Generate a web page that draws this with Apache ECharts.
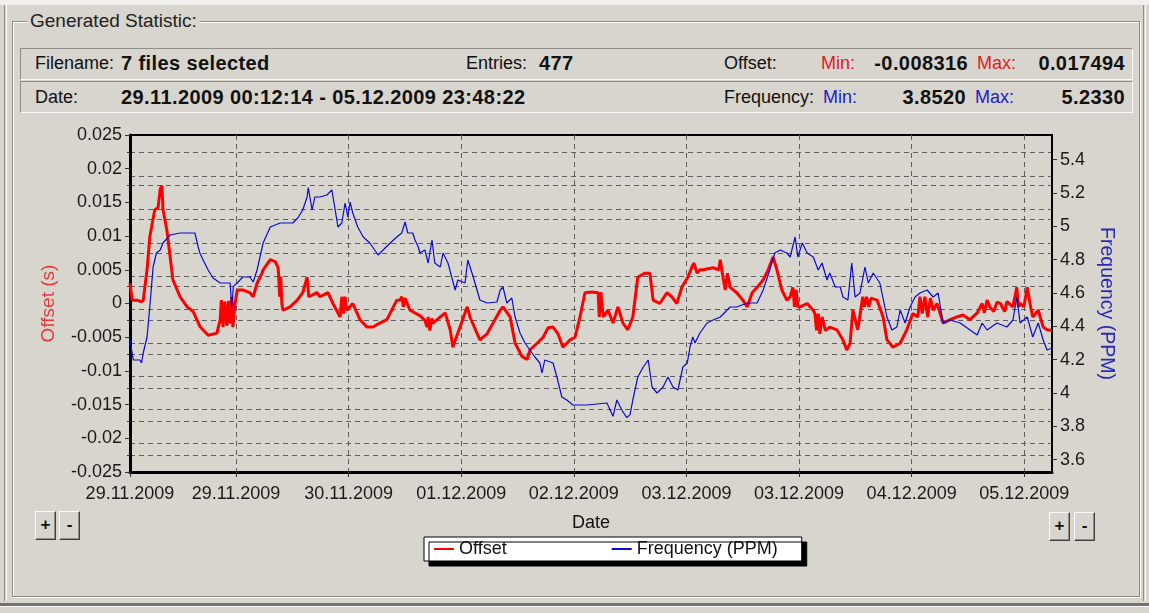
<!DOCTYPE html>
<html>
<head>
<meta charset="utf-8">
<script src="https://cdn.jsdelivr.net/npm/echarts@6/dist/echarts.min.js"></script>
<style>
  html, body { margin: 0; padding: 0; }
  body {
    width: 1149px; height: 613px; overflow: hidden; position: relative;
    background: #d8d5ce; color: #111;
    font-family: "Liberation Sans", Arial, sans-serif;
  }
  .abs { position: absolute; }
  .strip { left: 0; top: 0; width: 1149px; height: 5px; background: #f1f0ec; }
  .vedge { top: 5px; width: 1px; height: 596px; border-left: 1px solid #8f8d86; border-right: 1px solid #fbfbf9; }
  .group { left: 12px; top: 21px; width: 1126px; height: 574px;
           border: 1px solid #8f8d86; box-shadow: inset 1px 1px 0 #fbfbf9, 1px 1px 0 #fbfbf9; }
  .gtitle { left: 27px; top: 9px; padding: 0 3px; background: #d8d5ce; font-size: 19px; line-height: 24px; color: #222; }
  .panel { left: 20px; width: 1111px; height: 30px;
           border-top: 1px solid #8f8d86; border-left: 1px solid #8f8d86;
           border-right: 1px solid #fbfbf9; border-bottom: 1px solid #fbfbf9; }
  .t { font-size: 18px; line-height: 22px; white-space: nowrap; }
  .b { font-size: 20px; line-height: 22px; font-weight: bold; white-space: nowrap; letter-spacing: 0.4px; }
  .red { color: #e02020; }
  .blue { color: #2020c8; }
  .btn { width: 19px; height: 27px; background: #d8d5ce; text-align: center;
         font-size: 17px; line-height: 26px; font-weight: bold;
         border-top: 1px solid #fbfbf9; border-left: 1px solid #fbfbf9;
         border-right: 1px solid #404040; border-bottom: 1px solid #404040;
         box-shadow: inset -1px -1px 0 #8f8d86; }
  .sep { left: 0; top: 603px; width: 1149px; height: 3px; background: #74726c; border-bottom: 1px solid #fbfbf9; }
  #chart { position: absolute; left: 0; top: 0; width: 1149px; height: 613px; }
</style>
</head>
<body>
<div class="abs strip"></div>
<div class="abs vedge" style="left:4px"></div>
<div class="abs vedge" style="left:1143px"></div>
<div class="abs group"></div>
<div class="abs gtitle">Generated Statistic:</div>

<div class="abs panel" style="top:48px"></div>
<div class="abs panel" style="top:81px"></div>

<div class="abs t" style="left:35px;top:52px">Filename:</div>
<div class="abs b" style="left:121px;top:52px">7 files selected</div>
<div class="abs t" style="left:466px;top:52px">Entries:</div>
<div class="abs b" style="left:539px;top:52px">477</div>
<div class="abs t" style="left:724px;top:52px">Offset:</div>
<div class="abs t red" style="left:821px;top:52px">Min:</div>
<div class="abs b" style="right:181px;top:52px">-0.008316</div>
<div class="abs t red" style="left:977px;top:52px">Max:</div>
<div class="abs b" style="right:24px;top:52px">0.017494</div>

<div class="abs t" style="left:35px;top:86px">Date:</div>
<div class="abs b" style="left:121px;top:86px">29.11.2009 00:12:14 - 05.12.2009 23:48:22</div>
<div class="abs t" style="left:724px;top:86px">Frequency:</div>
<div class="abs t blue" style="left:823px;top:86px">Min:</div>
<div class="abs b" style="right:183px;top:86px">3.8520</div>
<div class="abs t blue" style="left:975px;top:86px">Max:</div>
<div class="abs b" style="right:24px;top:86px">5.2330</div>

<div class="abs btn" style="left:35px;top:511px">+</div>
<div class="abs btn" style="left:59px;top:511px">-</div>
<div class="abs btn" style="left:1049px;top:512px">+</div>
<div class="abs btn" style="left:1074px;top:512px">-</div>

<div class="abs sep"></div>

<div id="chart"></div>

<script>
// Time axis: hours since 29.11.2009 00:12:14
const timeMin = 0;
const timeMax = 167.6;
const dateTickHours = [0, 19.27, 39.74, 60.21, 80.68, 101.15, 121.62, 142.09, 162.56];
const dateTickLabels = ['29.11.2009', '29.11.2009', '30.11.2009', '01.12.2009', '02.12.2009',
                        '03.12.2009', '03.12.2009', '04.12.2009', '05.12.2009'];

// Offset (s): [hour, value]
const offsetData = [
  [0, 0.0030], [0.4, 0.0005], [1.2, 0.0005], [2.0, 0.0003], [2.4, 0.0004], [3.1, 0.0050],
  [3.6, 0.0099], [4.5, 0.0139], [5.1, 0.0142], [5.5, 0.0170], [5.8, 0.0175], [6.0, 0.0139],
  [6.7, 0.0109], [7.3, 0.0069], [7.8, 0.0035], [9.1, 0.0010], [10.4, -0.0005], [11.5, -0.0012],
  [12.7, -0.0034], [14.2, -0.0047], [15.8, -0.0044], [16.4, -0.0024], [16.6, 0.0005],
  [16.9, -0.0035], [17.2, 0.0003], [17.6, -0.0033], [17.9, 0.0004], [18.2, -0.0030],
  [18.5, 0.0010], [18.7, -0.0035], [19.1, 0.0000],
  [19.5, 0.0020], [20.5, 0.0020], [21.8, 0.0016], [22.4, 0.0010], [23.1, 0.0030], [24.0, 0.0045],
  [24.2, 0.0050], [25.5, 0.0065], [26.4, 0.0062], [26.9, 0.0054], [27.0, 0.0045], [27.2, 0.0010],
  [27.4, 0.0040], [27.6, 0.0000], [27.8, -0.0010], [29.1, -0.0005], [30.4, 0.0005], [31.4, 0.0016],
  [32.2, 0.0039], [32.5, 0.0010], [32.7, 0.0010], [34.0, 0.0016], [34.5, 0.0010], [36.0, 0.0016],
  [36.9, 0.0000], [38.2, -0.0020], [38.5, 0.0010], [38.8, -0.0015], [39.1, 0.0010], [39.4, -0.0010],
  [40.5, 0.0000], [41.8, -0.0024], [43.1, -0.0035], [44.2, -0.0035], [45.4, -0.0029],
  [46.7, -0.0024], [48.5, 0.0005], [49.1, 0.0005], [49.4, 0.0010], [49.7, -0.0005], [50.0, 0.0008],
  [50.9, -0.0010], [52.7, -0.0018],
  [53.6, -0.0025], [54.0, -0.0035], [54.2, -0.0020], [54.5, -0.0040], [54.9, -0.0022],
  [55.1, -0.0029], [56.4, -0.0020], [57.3, -0.0014], [58.2, -0.0039], [58.7, -0.0065],
  [59.1, -0.0055], [60.0, -0.0035], [61.3, -0.0005], [61.8, -0.0020], [63.6, -0.0054],
  [64.9, -0.0045], [66.0, -0.0029], [67.3, -0.0010], [67.8, -0.0005], [69.1, -0.0020],
  [70.0, -0.0059], [71.3, -0.0079], [72.2, -0.0083], [72.7, -0.0069], [74.0, -0.0059],
  [75.1, -0.0050], [76.0, -0.0036], [76.9, -0.0035], [77.8, -0.0045], [78.7, -0.0065],
  [80.0, -0.0054], [80.9, -0.0050], [81.8, -0.0020], [82.7, 0.0016], [84.0, 0.0017],
  [85.1, 0.0016], [85.3, -0.0020], [85.6, 0.0017], [86.0, -0.0020], [86.9, -0.0010],
  [87.8, -0.0029], [88.7, -0.0005], [89.6, -0.0029], [90.5, -0.0039], [91.4, -0.0020],
  [92.3, 0.0039], [93.6, 0.0045], [94.5, 0.0045], [95.1, 0.0005], [96.3, 0.0000], [97.6, 0.0016],
  [98.5, 0.0010], [99.4, 0.0000], [100.3, 0.0024], [101.4, 0.0039], [102.2, 0.0055],
  [102.5, 0.0060], [103.1, 0.0045], [103.6, 0.0050],
  [104.2, 0.0050], [106.0, 0.0053], [107.0, 0.0050], [107.3, 0.0065], [107.8, 0.0039],
  [108.2, 0.0020], [108.6, 0.0045], [109.1, 0.0024], [110.3, 0.0016], [111.4, 0.0005],
  [112.2, -0.0005], [113.1, 0.0016], [114.0, 0.0024], [115.1, 0.0035], [116.0, 0.0050],
  [116.9, 0.0069], [117.6, 0.0050], [118.5, 0.0020], [119.4, 0.0005], [120.0, 0.0010],
  [120.5, 0.0024], [120.8, -0.0005], [121.1, 0.0020], [121.4, -0.0005], [121.8, -0.0005],
  [123.1, 0.0000], [124.2, -0.0010], [124.5, -0.0015], [124.8, -0.0040], [125.1, -0.0015],
  [125.4, -0.0045], [125.8, -0.0020], [126.4, -0.0040], [127.2, -0.0035], [128.5, -0.0039],
  [129.6, -0.0054], [130.3, -0.0069], [130.9, -0.0059], [131.4, -0.0010], [132.3, -0.0039],
  [133.2, 0.0010], [133.5, -0.0005], [133.9, 0.0010], [134.3, -0.0005], [134.7, 0.0008],
  [135.8, 0.0005], [136.9, -0.0020], [137.6, -0.0054], [138.7, -0.0065], [140.0, -0.0059],
  [141.2, -0.0039], [142.3, -0.0015], [143.2, -0.0020], [143.6, 0.0010], [144.0, -0.0015],
  [144.5, 0.0010], [145.0, -0.0020], [145.5, 0.0008], [146.0, -0.0010], [146.7, 0.0000],
  [147.8, -0.0029], [149.1, -0.0024], [150.3, -0.0020], [151.4, -0.0017], [152.7, -0.0024],
  [154.0, -0.0014], [154.9, 0.0000], [155.3, -0.0014], [155.8, 0.0005], [156.3, -0.0005],
  [157.0, -0.0012], [157.6, 0.0002], [158.2, 0.0000], [159.0, -0.0012], [159.4, 0.0003],
  [160.5, -0.0005], [161.2, 0.0024], [161.5, -0.0005], [161.8, 0.0000], [162.5, -0.0005],
  [163.1, 0.0024], [163.6, 0.0000], [164.1, -0.0020], [165.1, -0.0010], [166.0, -0.0035],
  [166.7, -0.0039], [167.6, -0.0040]
];

// Frequency (PPM): [hour, value]
const frequencyData = [
  [0, 4.318], [0.3, 4.258], [0.6, 4.198], [1.8, 4.198], [2.1, 4.180], [2.4, 4.240], [3.1, 4.336],
  [3.6, 4.516], [4.2, 4.756], [4.8, 4.840], [5.5, 4.858], [6.0, 4.900], [7.3, 4.948], [9.1, 4.960],
  [11.8, 4.960], [12.4, 4.876], [12.7, 4.840], [13.3, 4.798], [14.2, 4.738], [15.1, 4.690],
  [16.4, 4.660], [18.2, 4.660], [18.5, 4.516], [18.8, 4.640], [19.5, 4.660], [20.5, 4.696],
  [21.8, 4.696], [22.4, 4.666], [23.1, 4.738], [24.2, 4.900], [25.5, 4.996], [27.3, 5.020],
  [29.6, 5.020], [30.5, 5.050], [31.4, 5.098], [32.2, 5.176], [32.4, 5.233], [33.1, 5.098],
  [33.6, 5.176], [34.5, 5.176], [35.8, 5.188], [36.7, 5.218], [37.3, 5.098], [37.8, 4.996],
  [38.5, 5.020], [39.1, 5.140], [39.6, 5.056], [40.0, 5.146], [40.5, 5.080], [41.4, 4.996],
  [42.4, 4.936], [43.6, 4.900], [45.1, 4.828], [46.0, 4.858], [47.3, 4.900], [48.5, 4.936],
  [49.4, 4.960], [50.0, 5.026], [50.5, 4.960], [51.4, 4.960], [51.8, 4.918], [52.4, 4.876],
  [52.7, 4.840], [53.6, 4.858], [54.2, 4.780], [54.9, 4.918], [55.4, 4.780], [56.4, 4.756],
  [56.9, 4.840], [57.8, 4.780], [59.1, 4.618], [59.6, 4.678], [60.9, 4.660], [61.4, 4.798],
  [62.4, 4.696], [63.6, 4.558], [64.9, 4.540], [66.7, 4.546], [67.3, 4.618], [67.8, 4.636],
  [68.5, 4.540], [69.4, 4.570], [70.0, 4.456], [70.9, 4.360], [71.8, 4.300], [72.7, 4.258],
  [73.6, 4.216], [74.5, 4.180], [74.9, 4.120], [75.4, 4.198], [76.9, 4.180], [77.6, 4.096],
  [78.5, 3.976], [79.4, 3.958], [80.5, 3.928], [83.1, 3.928], [86.7, 3.940], [87.8, 3.860],
  [88.5, 3.958], [89.4, 3.898], [90.3, 3.852], [90.9, 3.870], [91.4, 3.958], [92.3, 4.096],
  [93.3, 4.156], [94.2, 4.198], [94.9, 4.036], [95.8, 4.000], [96.9, 4.036], [97.8, 4.096],
  [98.7, 4.036], [99.6, 4.018], [100.5, 4.156], [101.3, 4.180], [101.8, 4.276], [102.3, 4.336],
  [102.7, 4.300], [103.6, 4.360], [104.9, 4.420], [106.0, 4.438], [107.3, 4.456], [109.1, 4.516],
  [110.3, 4.516], [112.2, 4.540], [114.0, 4.540], [115.1, 4.618], [116.3, 4.738], [117.2, 4.840],
  [118.2, 4.858], [119.4, 4.840], [120.0, 4.816], [120.9, 4.936], [121.4, 4.816], [122.2, 4.900],
  [123.1, 4.840], [124.2, 4.816], [125.1, 4.738], [125.8, 4.780], [126.7, 4.678], [127.2, 4.720],
  [128.2, 4.636], [129.1, 4.636], [129.6, 4.576], [130.5, 4.558], [131.2, 4.780], [131.8, 4.576],
  [132.7, 4.600], [133.6, 4.756], [134.2, 4.660], [135.1, 4.720], [136.3, 4.660], [137.6, 4.456],
  [138.5, 4.378], [139.4, 4.396], [140.0, 4.498], [140.9, 4.420], [141.8, 4.516], [142.7, 4.576],
  [143.6, 4.600], [144.9, 4.618], [146.0, 4.576], [146.9, 4.600], [147.8, 4.420], [149.1, 4.438],
  [150.9, 4.420], [152.7, 4.378], [154.0, 4.348], [154.9, 4.420], [155.8, 4.378], [157.6, 4.420],
  [159.4, 4.396], [160.5, 4.438], [161.2, 4.576], [161.8, 4.420], [163.1, 4.456], [163.6, 4.396],
  [164.1, 4.336], [165.1, 4.420], [166.0, 4.318], [166.7, 4.258], [167.6, 4.270]
];

// Axis ranges and tick values
const offsetMin = -0.025, offsetMax = 0.025, offsetStep = 0.005;
const freqMin = 3.526, freqMax = 5.548;
const freqTicks = [3.6, 3.8, 4.0, 4.2, 4.4, 4.6, 4.8, 5.0, 5.2, 5.4];
const freqGridValues = [3.7, 3.9, 4.1, 4.3, 4.5, 4.7, 4.9, 5.1, 5.3];

const FONT = '"Liberation Sans", Arial, sans-serif';
const gridDash = { color: '#5f5f5f', width: 1, type: [5, 4] };

const chart = echarts.init(document.getElementById('chart'), null, { renderer: 'canvas' });

chart.setOption({
  animation: false,
  backgroundColor: 'transparent',
  textStyle: { fontFamily: FONT },
  grid: {
    left: 130, top: 135, width: 922, height: 337,
    show: true, borderColor: '#000', borderWidth: 2, backgroundColor: 'transparent'
  },
  legend: {
    left: 424, top: 537,
    padding: [3, 24, 3, 9],
    itemGap: 104, itemWidth: 20, itemHeight: 14,
    backgroundColor: '#ffffff', borderColor: '#000', borderWidth: 1,
    shadowColor: '#000', shadowBlur: 0, shadowOffsetX: 5, shadowOffsetY: 5,
    itemStyle: { color: 'transparent', borderColor: 'transparent', borderWidth: 0 },
    textStyle: { fontFamily: FONT, fontSize: 18, color: '#111' },
    data: ['Offset', 'Frequency (PPM)']
  },
  xAxis: {
    type: 'value', min: timeMin, max: timeMax,
    name: 'Date', nameLocation: 'middle', nameGap: 42,
    nameTextStyle: { fontFamily: FONT, fontSize: 18, color: '#111' },
    axisLine: { show: true, onZero: false, lineStyle: { color: '#000', width: 3 } },
    axisTick: { show: true, customValues: dateTickHours, length: 5, lineStyle: { color: '#333' } },
    axisLabel: {
      customValues: dateTickHours, margin: 13,
      fontFamily: FONT, fontSize: 18, color: '#1a1a1a',
      formatter: function (v) {
        let best = 0;
        dateTickHours.forEach(function (h, i) {
          if (Math.abs(h - v) < Math.abs(dateTickHours[best] - v)) best = i;
        });
        return dateTickLabels[best];
      }
    },
    splitLine: { show: true, lineStyle: gridDash }
  },
  yAxis: [
    {
      type: 'value', position: 'left',
      min: offsetMin, max: offsetMax, interval: offsetStep,
      name: 'Offset (s)', nameLocation: 'middle', nameGap: 72,
      nameTextStyle: { fontFamily: FONT, fontSize: 19, color: '#e23a3a' },
      axisLine: { show: true, onZero: false, lineStyle: { color: '#000', width: 3 } },
      axisTick: { show: true, length: 5, lineStyle: { color: '#333' } },
      minorTick: { show: true, splitNumber: 2, length: 3, lineStyle: { color: '#333' } },
      axisLabel: { margin: 8, fontFamily: FONT, fontSize: 18, color: '#1a1a1a' },
      splitLine: { show: false },
      minorSplitLine: { show: true, lineStyle: gridDash }
    },
    {
      type: 'value', position: 'right',
      min: freqMin, max: freqMax,
      name: 'Frequency (PPM)', nameLocation: 'middle', nameGap: 38, nameRotate: -90,
      nameTextStyle: { fontFamily: FONT, fontSize: 19.5, color: '#2a2ab8' },
      axisLine: { show: true, onZero: false, lineStyle: { color: '#000', width: 2 } },
      axisTick: { show: true, customValues: freqTicks, length: 5, lineStyle: { color: '#333' } },
      axisLabel: { customValues: freqTicks, margin: 8, fontFamily: FONT, fontSize: 18, color: '#1a1a1a' },
      splitLine: { show: false }
    },
    {
      // grid lines halfway between the frequency ticks
      type: 'value', position: 'right',
      min: freqMin, max: freqMax,
      axisLine: { show: false },
      axisTick: { show: false, customValues: freqGridValues },
      axisLabel: { show: false, customValues: freqGridValues },
      splitLine: { show: true, lineStyle: gridDash }
    }
  ],
  series: [
    {
      name: 'Offset', type: 'line', xAxisIndex: 0, yAxisIndex: 0,
      data: offsetData, symbol: 'none', showSymbol: false,
      lineStyle: { color: '#ff0000', width: 3 }, itemStyle: { color: '#ff0000' },
      z: 3
    },
    {
      name: 'Frequency (PPM)', type: 'line', xAxisIndex: 0, yAxisIndex: 1,
      data: frequencyData, symbol: 'none', showSymbol: false,
      lineStyle: { color: '#0a0ad0', width: 1.2 }, itemStyle: { color: '#0a0ad0' },
      z: 4
    }
  ]
});
</script>
</body>
</html>
